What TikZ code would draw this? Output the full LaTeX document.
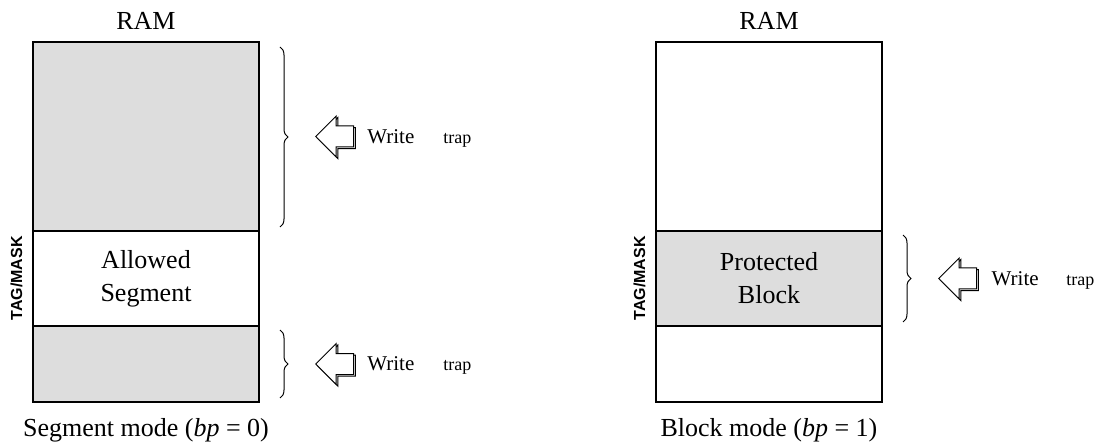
\documentclass[tikz,border=0pt]{standalone}
\usepackage{fontspec}
\setmainfont{Liberation Serif}
\newfontfamily\tagfont{Liberation Sans}
\usetikzlibrary{positioning,calc,shapes.arrows,shadows,decorations.pathreplacing}
\definecolor{ramgray}{RGB}{221,221,221}

\tikzset{every picture/.style={line width=0.75pt}}
\tikzset{
  memseg/.style={draw, line width=1.5pt, minimum width=169.5pt, inner sep=0pt, outer sep=0pt, align=center, font=\fontsize{19.5}{24.75}\selectfont},
  shaded/.style={fill=ramgray},
  trapbrace/.style={decorate, decoration={brace, amplitude=6pt}, line width=0.75pt},
  traparrow/.style={single arrow, draw, fill=white, shape border rotate=180, minimum height=28.5pt, minimum width=30pt, inner xsep=2pt, inner ysep=7.5pt, single arrow head extend=7.5pt, copy shadow={shadow xshift=1.2pt, shadow yshift=-1.2pt}},
  writelbl/.style={inner sep=0pt, font=\fontsize{15.75}{18}\selectfont},
  traplbl/.style={inner sep=0pt, font=\fontsize{13.5}{16}\selectfont},
  ramlbl/.style={inner sep=0pt, font=\fontsize{19.5}{24}\selectfont},
  taglbl/.style={inner sep=0pt, rotate=90, font=\tagfont\bfseries\fontsize{12}{14}\selectfont}
}

\begin{document}
\begin{tikzpicture}[x=0.75pt,y=0.75pt,yscale=-1,xscale=1]
\useasboundingbox (0,0) rectangle (1097,442);

%Shape: Segment mode memory
\node[memseg, shaded, minimum height=141.75pt, anchor=north west] (topL) at (33,42) {};
\node[memseg, minimum height=71.25pt, below=0pt of topL] (midL) {Allowed\\Segment};
\node[memseg, shaded, minimum height=57pt, below=0pt of midL] (botL) {};

%Shape: Block mode memory
\node[memseg, minimum height=141.75pt, anchor=north west] (topR) at (656,42) {};
\node[memseg, shaded, minimum height=71.25pt, below=0pt of topR] (midR) {Protected\\Block};
\node[memseg, minimum height=57pt, below=0pt of midR] (botR) {};

% Text Node
\node[ramlbl, above=9pt of topL] (ramL) {RAM};
\node[ramlbl, above=9pt of topR] (ramR) {RAM};
% Text Node
\node[taglbl, anchor=south] (tagL) at ($(midL.west)+(-10,0)$) {TAG/MASK};
\node[taglbl, anchor=south] (tagR) at ($(midR.west)+(-10,0)$) {TAG/MASK};

%Curve Lines: braces
\draw[trapbrace] ($(topL.north east)+(21,5)$) -- ($(topL.south east)+(21,-4)$);
\draw[trapbrace] ($(botL.north east)+(21,4)$) -- ($(botL.south east)+(21,-4)$);
\draw[trapbrace] ($(midR.north east)+(21,4)$) -- ($(midR.south east)+(21,-4)$);

%Shape: block arrows
\node[traparrow, anchor=tip] (arrTL) at ($(topL.east)+(56,0)$) {};
\node[traparrow, anchor=tip] (arrBL) at ($(botL.east)+(56,0)$) {};
\node[traparrow, anchor=tip] (arrR) at ($(midR.east)+(56,0)$) {};

% Text Node
\node[writelbl, right=9.5pt of arrTL.tail] (wTL) {Write};
\node[traplbl, base right=21pt of wTL] (tTL) {trap};
\node[writelbl, right=9.5pt of arrBL.tail] (wBL) {Write};
\node[traplbl, base right=21pt of wBL] (tBL) {trap};
\node[writelbl, right=10.5pt of arrR.tail] (wR) {Write};
\node[traplbl, base right=20pt of wR] (tR) {trap};

% Text Node
\node[ramlbl, anchor=base] (capL) at ($(botL.south)+(0,34)$) {Segment mode (\textit{bp} = 0)};
\node[ramlbl, anchor=base] (capR) at ($(botR.south)+(0,34)$) {Block mode (\textit{bp} = 1)};

\end{tikzpicture}
\end{document}
